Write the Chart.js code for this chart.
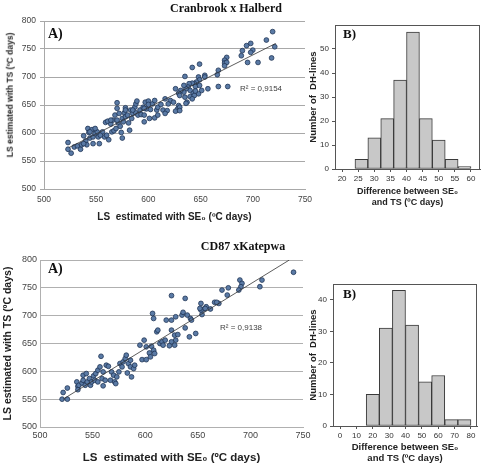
<!DOCTYPE html>
<html>
<head>
<meta charset="utf-8">
<script src="https://cdn.jsdelivr.net/npm/chart.js@4.4.0/dist/chart.umd.min.js"></script>
<style>
body { margin: 0; background: #fff; overflow: hidden; }
#fig { position: relative; width: 481px; height: 465px; overflow: hidden; background: #fff; font-family: 'Liberation Sans', Arial, sans-serif; }
canvas { position: absolute; }
.t { position: absolute; white-space: nowrap; line-height: 1; }
.c { transform: translate(-50%, -50%); }
.m { transform: translateY(-50%); }
.serif { font-family: 'Liberation Serif', 'Times New Roman', serif; font-weight: bold; color: #111; }
.r2 { font-size: 8px; color: #404040; }
</style>
</head>
<body>
<div id="fig">
  <canvas id="sc1" width="320" height="225" style="left:0;top:0"></canvas>
  <canvas id="hi1" width="190" height="209" style="left:300px;top:0"></canvas>
  <canvas id="sc2" width="318" height="233" style="left:0;top:232px"></canvas>
  <canvas id="hi2" width="190" height="233" style="left:300px;top:232px"></canvas>

  <div class="t c serif" style="left:226px;top:8px;font-size:12px">Cranbrook x Halberd</div>
  <div class="t c serif" style="left:243px;top:246px;font-size:12px">CD87 xKatepwa</div>
  <div class="t m serif" style="left:48px;top:34px;font-size:14px">A)</div>
  <div class="t m serif" style="left:48px;top:269px;font-size:14px">A)</div>
  <div class="t m serif" style="left:343px;top:33px;font-size:13px">B)</div>
  <div class="t m serif" style="left:343px;top:293px;font-size:13px">B)</div>
  <div class="t m r2" style="left:240px;top:89px">R² = 0,9154</div>
  <div class="t m r2" style="left:220px;top:328px">R² = 0,9138</div>
  <div class="t" style="left:10px;top:95px;font-size:8.5px;font-weight:bold;color:#222;transform:translate(-50%,-50%) rotate(-90deg)">LS estimated with TS (ºC days)</div>
</div>

<script>
// Cranbrook x Halberd
const chX = [523,523,526,529,532,535,536,538,540,541,542,543,544,546,547,547,549,551,552,553,556,558,559,560,561,562,564,565,566,567,568,569,570,570,571,572,573,574,575,575,576,577,578,578,580,581,582,583,584,585,587,588,588,589,590,592,593,595,596,596,597,598,600,600,601,602,604,606,608,609,612,614,606,609,596,585,578,570,564,554,549,544,538,
  719,713,721,718,705,698,694,700,698,690,689,695,675,673,673,675,673,667,666,649,642,676,667,657,654,654,648,649,646,644,642,639,635,638,645,640,649,651,648,643,636,634,631,629,630,626,635,637,640,644,642,645,634,616,621,624,619,629,628,630,626,630,618,616,636]
const chY = [583,571,564,575,577,571,579,595,586,579,608,601,591,606,593,581,599,602,593,581,602,593,619,596,621,588,616,602,623,604,632,608,654,644,618,635,612,601,626,591,620,636,645,629,632,618,605,641,626,635,646,652,636,657,632,641,633,646,620,632,655,643,657,651,626,642,652,627,641,646,651,641,658,632,644,641,641,623,623,596,608,602,581,
  781,766,754,734,726,760,756,748,744,747,738,726,735,730,725,726,720,712,704,723,717,683,683,679,703,700,700,695,691,688,689,688,701,682,683,676,685,676,670,671,679,673,676,671,667,679,664,655,665,667,661,675,685,661,658,655,652,649,643,646,639,640,640,635,653]
const chTrendX = [524, 722]
const chTrendY = [574, 760]
const chBins = [26, 30, 34, 38, 42, 46, 50, 54, 58]
const chCounts = [4, 13, 21, 37, 57, 21, 12, 4, 1]

// CD87 x Katepwa
const ckX = [521,526,522,526,535,536,536,537,540,541,541,543,544,545,547,548,549,551,552,553,555,555,557,558,559,560,560,562,563,565,567,568,570,571,572,573,575,576,578,579,581,582,583,584,586,586,587,589,590,595,597,599,601,601,604,605,606,608,609,611,612,614,616,617,607,608,
  741,711,709,690,692,691,689,679,678,673,670,666,668,662,658,656,653,653,654,657,652,638,625,625,620,629,635,636,640,643,644,638,625,642,648,628,631,629,625,623,628,619]
const ckY = [550,550,562,570,581,573,567,575,579,593,584,575,596,581,587,575,581,592,584,596,581,602,608,627,587,574,599,584,611,609,584,599,593,581,578,590,599,614,608,617,623,629,597,614,620,608,590,605,611,647,621,656,621,644,633,626,645,638,632,671,674,650,653,647,704,695,
  778,764,752,764,758,752,746,750,737,746,722,724,724,712,716,712,710,722,702,713,713,731,736,692,692,698,701,706,701,695,692,678,674,662,668,665,666,656,653,646,647,656]
const ckTrendX = [522, 737]
const ckTrendY = [550, 800]
const ckBins = [20, 28, 36, 44, 52, 60, 68, 76]
const ckCounts = [10, 31, 43, 32, 14, 16, 2, 2]

// ticks
const scXTicks = [500, 550, 600, 650, 700, 750]
const scYTicks = [500, 550, 600, 650, 700, 750, 800]
const h1XTicks = [20, 25, 30, 35, 40, 45, 50, 55, 60]
const h1YTicks = [0, 10, 20, 30, 40, 50]
const h2XTicks = [0, 10, 20, 30, 40, 50, 60, 70, 80]
const h2YTicks = [0, 10, 20, 30, 40]

const sans = "'Liberation Sans', Arial, sans-serif"

const frame = {
    id: 'frame',
    afterDraw(chart) {
        const a = chart.chartArea
        const g = chart.ctx
        g.save()
        g.strokeStyle = '#555'
        g.lineWidth = 1
        g.strokeRect(Math.round(a.left) + 0.5, Math.round(a.top) + 0.5, Math.round(a.right - a.left) - 1, Math.round(a.bottom - a.top))
        g.restore()
    }
}

function fixTicks(list) {
    return function (scale) {
        scale.ticks = list.map(v => ({ value: v }))
    }
}

function criarScatter(id, xs, ys, tx, ty, o) {
    const pts = xs.map((x, i) => ({ x: x, y: ys[i] }))
    const trend = tx.map((x, i) => ({ x: x, y: ty[i] }))

    new Chart(document.getElementById(id), {
        type: 'scatter',
        data: {
            datasets: [{
                type: 'line',
                data: trend,
                showLine: true,
                borderColor: '#333',
                borderWidth: 0.8,
                pointRadius: 0,
                fill: false,
                order: 0
            }, {
                data: pts,
                backgroundColor: '#5a7aa5',
                borderColor: '#1f3555',
                borderWidth: 0.8,
                pointRadius: 2.4,
                order: 1
            }]
        },
        options: {
            responsive: false,
            animation: false,
            events: [],
            layout: { padding: { top: o.top, right: o.right, left: 0, bottom: 0 } },
            plugins: { legend: { display: false }, tooltip: { enabled: false } },
            scales: {
                x: {
                    type: 'linear',
                    min: 500,
                    max: 750,
                    afterBuildTicks: fixTicks(scXTicks),
                    afterFit: s => { s.height = o.xh },
                    grid: { display: false, drawTicks: false },
                    border: { display: true, color: o.grid },
                    ticks: { font: { family: sans, size: o.tick }, color: '#444', padding: o.xpad, maxRotation: 0, autoSkip: false },
                    title: {
                        display: true,
                        text: 'LS  estimated with SE₀ (ºC days)',
                        font: { family: sans, size: o.xtitle, weight: 'bold' },
                        color: '#222',
                        padding: { top: 0, bottom: o.xtb }
                    }
                },
                y: {
                    min: 500,
                    max: 800,
                    afterBuildTicks: fixTicks(scYTicks),
                    afterFit: s => { s.width = o.yw },
                    grid: { color: o.grid, drawTicks: o.ytl > 0, tickLength: o.ytl },
                    border: { display: true, color: o.grid },
                    ticks: { font: { family: sans, size: o.tick }, color: '#444', padding: o.ypad },
                    title: {
                        display: o.ytitle > 0,
                        text: 'LS estimated with TS (ºC days)',
                        font: { family: sans, size: o.ytitle, weight: 'bold' },
                        color: '#222',
                        padding: { top: 2, bottom: 0 }
                    }
                }
            }
        }
    })
}

function criarHist(id, bins, counts, xt, yt, o) {
    new Chart(document.getElementById(id), {
        type: 'bar',
        data: {
            datasets: [{
                data: bins.map((b, i) => ({ x: b, y: counts[i] })),
                backgroundColor: '#c8c8c8',
                borderColor: '#3a3a3a',
                borderWidth: 1,
                borderSkipped: false,
                barPercentage: 1,
                categoryPercentage: 1
            }]
        },
        options: {
            responsive: false,
            animation: false,
            events: [],
            layout: { padding: { top: o.top, right: o.right, left: 0, bottom: 0 } },
            plugins: { legend: { display: false }, tooltip: { enabled: false } },
            scales: {
                x: {
                    type: 'linear',
                    min: o.xmin,
                    max: o.xmax,
                    offset: false,
                    afterBuildTicks: fixTicks(xt),
                    afterFit: s => { s.height = o.xh },
                    grid: { display: true, offset: false, drawOnChartArea: false, drawTicks: true, tickLength: 3, color: '#555' },
                    border: { display: true, color: '#555' },
                    ticks: { font: { family: sans, size: 8 }, color: '#333', padding: 2, maxRotation: 0, autoSkip: false },
                    title: {
                        display: true,
                        text: ['Difference between SE₀', 'and TS (ºC days)'],
                        font: { family: sans, size: o.xtitle, weight: 'bold' },
                        color: '#222',
                        padding: { top: 0, bottom: 1 }
                    }
                },
                y: {
                    min: 0,
                    max: o.ymax,
                    afterBuildTicks: fixTicks(yt),
                    afterFit: s => { s.width = o.yw },
                    grid: { display: true, drawOnChartArea: false, drawTicks: true, tickLength: 3, color: '#555' },
                    border: { display: true, color: '#555' },
                    ticks: { font: { family: sans, size: 8 }, color: '#333', padding: 3 },
                    title: {
                        display: true,
                        text: 'Number of  DH-lines',
                        font: { family: sans, size: 9.5, weight: 'bold' },
                        color: '#222',
                        padding: { top: 8, bottom: 0 }
                    }
                }
            }
        },
        plugins: [frame]
    })
}

criarScatter('sc1', chX, chY, chTrendX, chTrendY, {
    top: 21, right: 15, xh: 36, yw: 44, tick: 8.5, xpad: 6, ypad: 4, ytl: 4,
    xtitle: 10, xtb: 2, ytitle: 0, grid: '#a8a8a8'
})
criarHist('hi1', chBins, chCounts, h1XTicks, h1YTicks, {
    top: 25, right: 10, xh: 40, yw: 35, xmin: 17.8, xmax: 62.8, ymax: 60, xtitle: 9
})
criarScatter('sc2', ckX, ckY, ckTrendX, ckTrendY, {
    top: 28, right: 15, xh: 38, yw: 40, tick: 9, xpad: 3, ypad: 3, ytl: 0,
    xtitle: 11.5, xtb: 0, ytitle: 10.5, grid: '#b0b0b0'
})
criarHist('hi2', ckBins, ckCounts, h2XTicks, h2YTicks, {
    top: 52, right: 13, xh: 39, yw: 33, xmin: -4.3, xmax: 83.7, ymax: 45, xtitle: 9.5
})
</script>
</body>
</html>
